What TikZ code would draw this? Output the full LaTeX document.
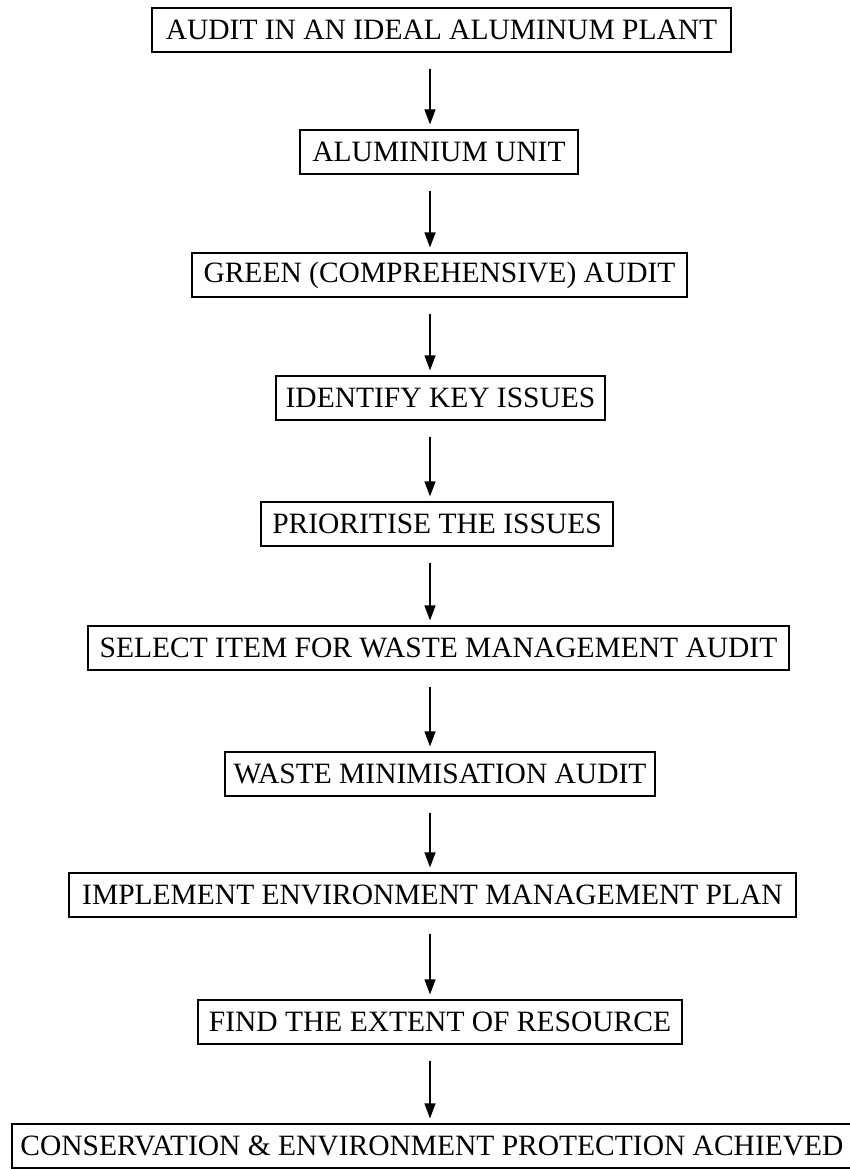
\documentclass[tikz,border=0pt]{standalone}
\usepackage{fontspec}
\setmainfont{Liberation Serif}
\usetikzlibrary{arrows.meta}
\begin{document}
\begin{tikzpicture}[x=1pt,y=-1pt,
  box/.style={draw, line width=1.2pt, inner sep=0pt, minimum height=44pt,
    font=\fontsize{29.5}{30}\selectfont},
  arr/.style={line width=1.2pt, -{Triangle[width=11pt,length=15pt]},
    shorten <=16pt, shorten >=5pt}]
\useasboundingbox (0,0) rectangle (850,1169);
\coordinate (ax) at (430,0);
\node[box, minimum width=579pt] (n1) at (441.5,30) {AUDIT IN AN IDEAL ALUMINUM PLANT};
\node[box, minimum width=278pt] (n2) at (439,152) {ALUMINIUM UNIT};
\node[box, minimum width=495pt] (n3) at (439.5,275) {GREEN (COMPREHENSIVE) AUDIT};
\node[box, minimum width=329pt] (n4) at (440.5,398) {IDENTIFY KEY ISSUES};
\node[box, minimum width=352pt] (n5) at (437,524) {PRIORITISE THE ISSUES};
\node[box, minimum width=701pt] (n6) at (438.5,648) {SELECT ITEM FOR WASTE MANAGEMENT AUDIT};
\node[box, minimum width=430pt] (n7) at (440,774) {WASTE MINIMISATION AUDIT};
\node[box, minimum width=727pt] (n8) at (432.5,895) {IMPLEMENT ENVIRONMENT MANAGEMENT PLAN};
\node[box, minimum width=484pt] (n9) at (440,1022) {FIND THE EXTENT OF RESOURCE};
\node[box, minimum width=840pt] (n10) at (432,1146) {CONSERVATION \& ENVIRONMENT PROTECTION ACHIEVED};
\foreach \a/\b in {n1/n2,n2/n3,n3/n4,n4/n5,n5/n6,n6/n7,n7/n8,n8/n9,n9/n10}
  \draw[arr] (\a.south -| ax) -- (\b.north -| ax);
\end{tikzpicture}
\end{document}
